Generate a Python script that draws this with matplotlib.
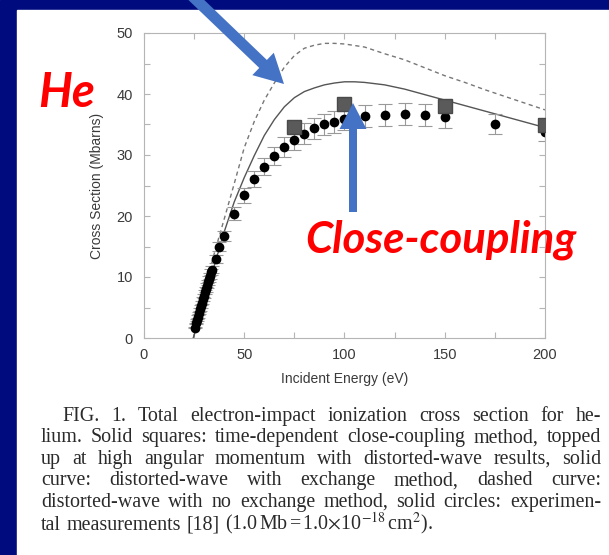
import numpy as np
import matplotlib.pyplot as plt
from matplotlib.patches import Rectangle, FancyArrow

plt.rcParams['mathtext.fontset'] = 'stix'

# experimental measurements (solid circles)
e_exp = np.array([25.5, 26, 26.5, 27, 27.5, 28, 28.5, 29, 29.5, 30, 30.5, 31, 31.5, 32, 32.5, 33, 33.5, 34,
                  36, 37.5, 40, 45, 50, 55, 60, 65, 70, 75, 80, 85, 90, 95, 100,
                  110, 120, 130, 140, 150, 175, 200])
s_exp = np.array([1.7, 2.4, 3.0, 3.5, 4.1, 4.7, 5.2, 5.8, 6.4, 6.9, 7.5, 8.0, 8.6, 9.1, 9.7, 10.2, 10.8, 11.2,
                  13.0, 15.0, 16.7, 20.4, 23.4, 26.0, 28.1, 29.8, 31.3, 32.5, 33.5, 34.4, 35.0, 35.4, 35.9,
                  36.4, 36.6, 36.7, 36.5, 36.2, 35.1, 33.8])
err_exp = np.array([0.1, 0.1, 0.15, 0.2, 0.2, 0.25, 0.25, 0.3, 0.3, 0.35, 0.35, 0.4, 0.4, 0.45, 0.5, 0.5, 0.55, 0.55,
                    0.65, 0.75, 0.85, 1.0, 1.2, 1.3, 1.4, 1.5, 1.6, 1.6, 1.7, 1.7, 1.75, 1.8, 1.8,
                    1.8, 1.8, 1.8, 1.8, 1.8, 1.6, 1.5])

# time-dependent close-coupling (solid squares)
e_tdcc = [75, 100, 150, 200]
s_tdcc = [34.6, 38.3, 38.0, 34.9]

# distorted-wave with exchange (solid curve)
e_dw = [24.6, 30, 35, 40, 45, 50, 55, 60, 65, 70, 75, 80, 85, 90, 95, 100, 105, 110,
        120, 130, 140, 150, 160, 170, 180, 190, 200]
s_dw = [0, 6.2, 11.8, 17.4, 22.3, 26.3, 29.9, 33.2, 35.8, 37.9, 39.4, 40.4, 41.0, 41.5, 41.8, 42.0, 42.0, 41.9,
        41.5, 40.8, 39.9, 39.0, 38.1, 37.2, 36.3, 35.4, 34.5]

# distorted-wave without exchange (dashed curve)
e_dwnx = [24.6, 30, 35, 40, 45, 50, 55, 60, 65, 70, 75, 80, 85, 90, 95, 100,
          110, 120, 130, 140, 150, 160, 170, 180, 190, 200]
s_dwnx = [0, 7.6, 13.8, 19.5, 25.3, 31.2, 35.5, 39.0, 41.8, 44.4, 46.3, 47.5, 48.0, 48.3, 48.3, 48.2,
          47.7, 46.6, 45.6, 44.3, 43.0, 41.9, 40.7, 39.6, 38.5, 37.4]

caption = [
    "FIG. 1. Total electron-impact ionization cross section for he-",
    "lium. Solid squares: time-dependent close-coupling method, topped",
    "up at high angular momentum with distorted-wave results, solid",
    "curve: distorted-wave with exchange method, dashed curve:",
    "distorted-wave with no exchange method, solid circles: experimen-",
]
caption_last = ["tal", "measurements", "[18]",
                r"(1.0$\,$Mb$\,$=$\,$1.0$\times$10$^{-18}$$\,$cm$^{2}$)."]

W, H = 609, 555
fig = plt.figure(figsize=(W / 100, H / 100), dpi=100)

# slide background, pixel coordinates
bg = fig.add_axes([0, 0, 1, 1], zorder=0)
bg.set_xlim(0, W)
bg.set_ylim(H, 0)
bg.axis('off')
bg.add_patch(Rectangle((0, 0), W, H, color='#000c7e'))
bg.add_patch(Rectangle((17, 10), W - 17, H - 10, color='white'))

# the chart
ax = fig.add_axes([144 / W, (H - 338) / H, 401 / W, 305 / H], zorder=1)
ax.set_facecolor('none')
ax.plot(e_dwnx, s_dwnx, color='#777777', lw=1.0, ls=(0, (3, 2.5)))
ax.plot(e_dw, s_dw, color='#555555', lw=1.0)
ax.errorbar(e_exp, s_exp, yerr=err_exp, fmt='o', color='black', ms=6,
            ecolor='#999999', elinewidth=0.8, capsize=5, capthick=0.8)
ax.plot(e_tdcc, s_tdcc, 's', color='#5a5a5a', mec='#4a4a4a', ms=10.5, zorder=5)

ax.set_xlim(0, 200)
ax.set_ylim(0, 50)
ax.set_xticks([0, 50, 100, 150, 200])
ax.set_xticks([25, 75, 125, 175], minor=True)
ax.set_yticks([0, 10, 20, 30, 40, 50])
ax.set_yticks([5, 15, 25, 35, 45], minor=True)
for sp in ax.spines.values():
    sp.set_color('#b5b5b5')
    sp.set_linewidth(0.8)
ax.tick_params(which='both', direction='in', top=True, right=True, length=4,
               color='#b5b5b5', width=0.8)
ax.tick_params(axis='x', pad=7)
ax.tick_params(axis='y', pad=8)
for lab in ax.get_xticklabels() + ax.get_yticklabels():
    lab.set_family('Liberation Sans')
    lab.set_fontsize(10.5)
    lab.set_color('#3a3a3a')
ax.set_xlabel("Incident Energy (eV)", family='Liberation Sans', fontsize=10, color='#3a3a3a')
ax.set_ylabel("Cross Section (Mbarns)", family='Liberation Sans', fontsize=10, color='#3a3a3a')
ax.xaxis.set_label_coords(0.5, -0.11)
ax.yaxis.set_label_coords(-0.1, 0.5)

# caption, one text per word so the lines can be justified
cap_kw = dict(family=['Liberation Serif', 'DejaVu Serif'], fontsize=14.4, color='#2a2a2a')
renderer = fig.canvas.get_renderer()


def word_width(s):
    t = bg.text(0, 0, s, **cap_kw)
    w = t.get_window_extent(renderer).width
    t.remove()
    return w


def put_words(words, x_left, y, gap):
    x = x_left
    for w in words:
        wd = word_width(w)
        bg.text(x, y, w, va='baseline', ha='left', **cap_kw)
        x += wd + gap


x_right = 601
y0 = 421
dy = 21.4
for i, line in enumerate(caption):
    words = line.split(' ')
    x_left = 62 if i == 0 else 41
    gap = (x_right - x_left - sum(word_width(w) for w in words)) / (len(words) - 1)
    put_words(words, x_left, y0 + i * dy, gap)
put_words(caption_last, 41, y0 + 5 * dy + 1.5, word_width(' ') * 1.1)

# arrows and red labels on top
ov = fig.add_axes([0, 0, 1, 1], zorder=3)
ov.set_xlim(0, W)
ov.set_ylim(H, 0)
ov.axis('off')
ov.add_patch(FancyArrow(188, -8, 96, 92, width=11, head_width=31, head_length=29,
                        length_includes_head=True, color='#4472c4', lw=0))
ov.add_patch(FancyArrow(353, 212, 0, -109, width=8, head_width=27, head_length=26,
                        length_includes_head=True, color='#4472c4', lw=0))
red_kw = dict(family='Lato', weight='bold', style='italic', color='red', va='baseline', ha='left')
ov.text(38, 107, "He", fontsize=34, **red_kw)
ov.text(305, 252, "Close-coupling", fontsize=31.5, **red_kw)

fig.savefig("out.png", dpi=100)
